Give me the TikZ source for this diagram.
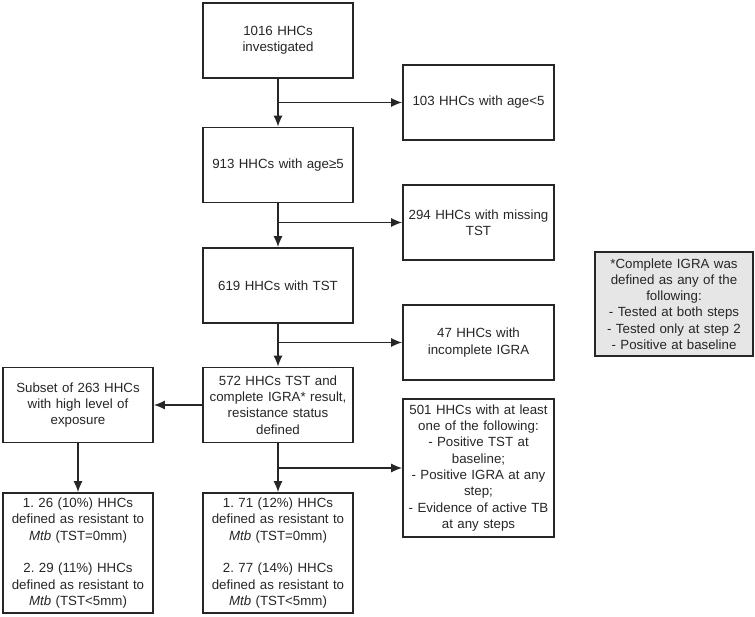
\documentclass[tikz,border=0pt]{standalone}
\usepackage{fontspec}
\setmainfont{Liberation Sans}
\frenchspacing
\usetikzlibrary{arrows.meta, positioning}
\definecolor{cline}{HTML}{262626}
\definecolor{cnote}{HTML}{E6E6E6}
\tikzset{
  every picture/.style={line width=1.6pt},
  box/.style={draw=cline, fill=#1, text=cline, align=center, inner sep=2pt, minimum width=150pt, text width=146pt, minimum height=75pt, font=\fontsize{13.3}{16.3}\selectfont},
  box/.default=white,
  arrow/.style={-{Latex[length=11pt, width=9pt]}, draw=cline, line width=1.6pt},
}

\begin{document}
\begin{tikzpicture}[x=1pt, y=-1pt]
  \useasboundingbox (0,0) rectangle (755,617);
  \node[box] (n1) at (278,40.5) {1016 HHCs\\investigated};
  \node[box] (n2) at (278,165) {913 HHCs with age≥5};
  \node[box] (n3) at (278,285.5) {619 HHCs with TST};
  \node[box] (n4) at (278,405) {572 HHCs TST and\\complete IGRA* result,\\resistance status\\defined};
  \node[box, minimum height=120pt] (n5) at (278,553) {1. 71 (12\%) HHCs\\defined as resistant to\\\textit{Mtb} (TST=0mm)\\[16.3pt]2. 77 (14\%) HHCs\\defined as resistant to\\\textit{Mtb} (TST<5mm)};
  \node[box, minimum width=151pt, text width=147pt] (r1) at (478.5,102.5) {103 HHCs with age<5};
  \node[box, minimum width=151pt, text width=147pt] (r2) at (478.5,222.5) {294 HHCs with missing\\TST};
  \node[box, minimum width=151pt, text width=147pt] (r3) at (478.5,342.5) {47 HHCs with\\incomplete IGRA};
  \node[box, minimum width=151pt, text width=147pt, minimum height=138pt] (r4) at (478.5,468) {501 HHCs with at least\\one of the following:\\- Positive TST at\\baseline;\\- Positive IGRA at any\\step;\\- Evidence of active TB\\at any steps};
  \node[box] (s1) at (78,405) {Subset of 263 HHCs\\with high level of\\exposure};
  \node[box, minimum height=120pt] (s2) at (78,553) {1. 26 (10\%) HHCs\\defined as resistant to\\\textit{Mtb} (TST=0mm)\\[16.3pt]2. 29 (11\%) HHCs\\defined as resistant to\\\textit{Mtb} (TST<5mm)};
  \node[box=cnote, minimum width=158pt, text width=154pt, minimum height=104pt] (note) at (674,304) {*Complete IGRA was\\defined as any of the\\following:\\- Tested at both steps\\- Tested only at step 2\\- Positive at baseline};
  \draw[arrow] (n1.south) -- (n2.north);
  \draw[arrow] (n2.south) -- (n3.north);
  \draw[arrow] (n3.south) -- (n4.north);
  \draw[arrow] (n4.south) -- (n5.north);
  \draw[arrow] (n1.south |- r1.west) -- (r1.west);
  \draw[arrow] (n2.south |- r2.west) -- (r2.west);
  \draw[arrow] (n3.south |- r3.west) -- (r3.west);
  \draw[arrow] (n4.south |- r4.west) -- (r4.west);
  \draw[arrow] (n4.west) -- (s1.east);
  \draw[arrow] (s1.south) -- (s2.north);
\end{tikzpicture}
\end{document}
